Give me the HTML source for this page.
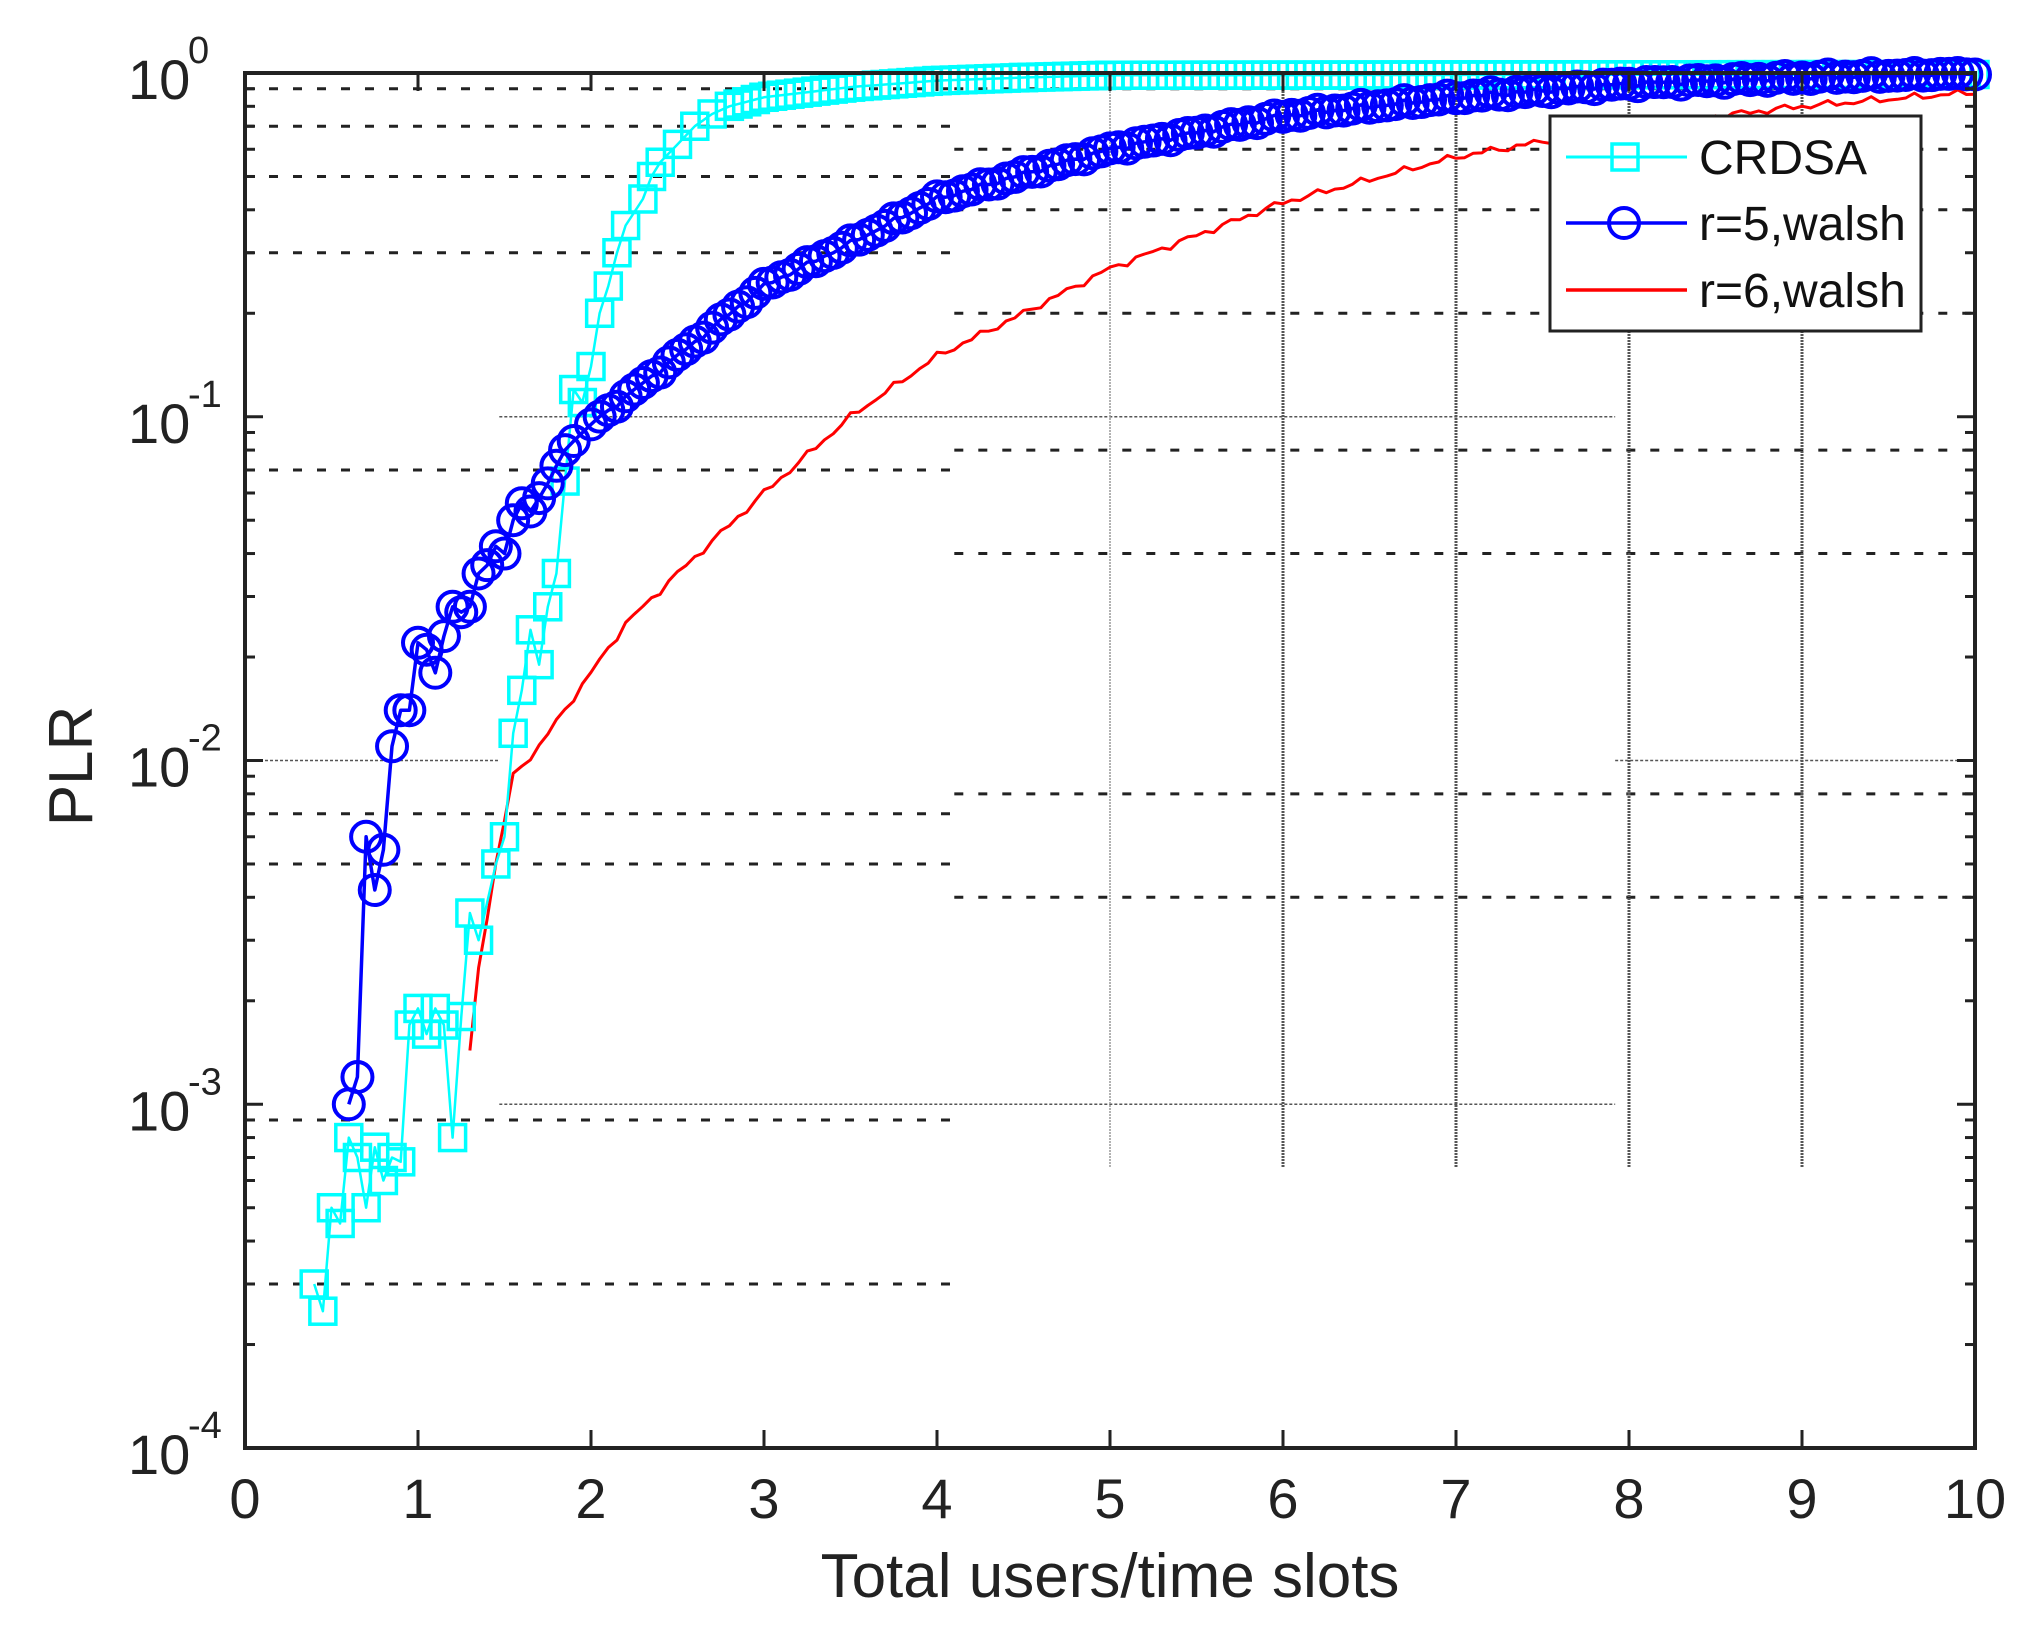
<!DOCTYPE html>
<html><head><meta charset="utf-8"><style>
html,body{margin:0;padding:0;background:#fff;}
svg{display:block;font-family:"Liberation Sans",Arial,sans-serif;}
</style></head><body>
<svg id="s" width="2030" height="1644" viewBox="0 0 2030 1644" xmlns="http://www.w3.org/2000/svg"></svg>
<script>
const L=245,R=1975,T=73,B=1448,D=(B-T)/4;
const X=v=>L+173*v, Y=v=>T+(-Math.log10(v))*D;
let o='';
function hl(y,x1,x2,style){o+=`<line x1="${x1}" y1="${y}" x2="${x2}" y2="${y}" ${style}/>`;}
const dot='stroke="#222" stroke-width="3" stroke-dasharray="9,15"';
const thin='stroke="#555" stroke-width="1.5" stroke-dasharray="3,2"';
const xm=X(4.1);
[0.9,0.7,0.5,0.3,0.07,0.007,0.005,0.0009,0.0003].forEach(v=>hl(Y(v),L,xm,dot));
[0.9,0.6,0.4,0.2,0.08,0.04,0.008,0.004].forEach(v=>hl(Y(v),xm,R,dot));
[0.1,0.001].forEach(v=>hl(Y(v),X(1.47),X(7.92),thin));
hl(Y(0.01),L,X(1.47),thin);hl(Y(0.01),X(7.92),R,thin);
[5,6,7,8,9].forEach(v=>o+=`<line x1="${X(v)}" y1="${T}" x2="${X(v)}" y2="1167" stroke="${v==5?'#999':'#555'}" stroke-width="${v==5?1.5:3}" stroke-dasharray="2,1"/>`);
function mk(pts,step,x0,x1,jit){const r=[];for(let x=x0;x<=x1+1e-9;x+=step){let i=0;while(i<pts.length-2&&pts[i+1][0]<x)i++;const a=pts[i],b=pts[i+1];let t=(x-a[0])/(b[0]-a[0]);t=Math.max(0,Math.min(1,t));let ly=Math.log10(a[1])+t*(Math.log10(b[1])-Math.log10(a[1]));if(jit)ly+=jit*Math.sin(x*37.3)*Math.cos(x*11.7);r.push([x,Math.min(Math.pow(10,ly),1)]);}return r;}
const path=(p,c,w)=>`<polyline fill="none" stroke="${c}" stroke-width="${w}" stroke-linejoin="round" points="${p.map(q=>X(q[0]).toFixed(1)+','+Y(q[1]).toFixed(1)).join(' ')}"/>`;
const red=mk([[1.3,1.4e-3],[1.35,2.5e-3],[1.45,5e-3],[1.55,9e-3],[1.7,0.011],[2,0.018],[2.2,0.025],[2.5,0.035],[3,0.06],[3.5,0.1],[4,0.15],[4.5,0.2],[5,0.27],[6,0.42],[7,0.57],[8,0.7],[9,0.8],[10,0.88]],0.05,1.3,10,0.012);
const cpts=[[0.4,3e-4],[0.45,2.5e-4],[0.5,5e-4],[0.55,4.5e-4],[0.6,8e-4],[0.65,7e-4],[0.7,5e-4],[0.75,7.5e-4],[0.8,6e-4],[0.85,7e-4],[0.9,6.8e-4],[0.95,1.7e-3],[1.0,1.9e-3],[1.05,1.6e-3],[1.1,1.9e-3],[1.15,1.7e-3],[1.2,8e-4],[1.25,1.8e-3],[1.3,3.6e-3],[1.35,3e-3],[1.45,5e-3],[1.5,6e-3],[1.55,0.012],[1.6,0.016],[1.65,0.024],[1.7,0.019],[1.75,0.028],[1.8,0.035],[1.85,0.065],[1.9,0.12],[1.95,0.11],[2.0,0.14],[2.05,0.2],[2.1,0.24],[2.15,0.3],[2.2,0.36],[2.3,0.43],[2.35,0.5],[2.4,0.55],[2.5,0.62],[2.6,0.7],[2.7,0.76],[2.8,0.8],[3,0.85],[3.5,0.91],[4,0.95],[4.5,0.97],[5,0.985],[10,0.99]];
let cyan=cpts.slice();for(let x=2.85;x<=10;x+=0.05){cyan.push(mk(cpts,1,x,x,0)[0]);}
cyan.sort((a,b)=>a[0]-b[0]);
const bpts=[[0.6,1e-3],[0.65,1.2e-3],[0.7,6e-3],[0.75,4.2e-3],[0.8,5.5e-3],[0.85,0.011],[0.9,0.014],[0.95,0.014],[1.0,0.022],[1.05,0.021],[1.1,0.018],[1.15,0.023],[1.2,0.028],[1.25,0.027],[1.3,0.028],[1.35,0.035],[1.4,0.037],[1.45,0.042],[1.5,0.04],[1.55,0.05],[1.6,0.056],[1.65,0.053],[1.7,0.058],[1.75,0.064],[1.8,0.072],[1.85,0.08],[1.9,0.085],[2.0,0.095],[2.5,0.15],[3,0.24],[3.5,0.32],[4,0.43],[5,0.6],[6,0.75],[7,0.85],[8,0.93],[9,0.97],[10,1.0]];
let blue=bpts.slice(0,28);for(let x=2.05;x<=10.001;x+=0.05)blue.push(mk(bpts.slice(27),1,x,x,0.008)[0]);
o+=path(red,'#ff0000',3);
o+=path(cyan,'#00ffff',2.5);
cyan.forEach(p=>o+=`<rect x="${X(p[0])-13}" y="${Y(p[1])-13}" width="26" height="26" fill="none" stroke="#00ffff" stroke-width="3.5"/>`);
o+=path(blue,'#0000ff',3.5);
blue.forEach(p=>o+=`<circle cx="${X(p[0])}" cy="${Y(p[1])}" r="15" fill="none" stroke="#0000ff" stroke-width="4"/>`);
o+=`<rect x="${L}" y="${T}" width="${R-L}" height="${B-T}" fill="none" stroke="#222" stroke-width="4"/>`;
for(let i=0;i<=10;i++){const x=X(i);o+=`<line x1="${x}" y1="${B}" x2="${x}" y2="${B-18}" stroke="#222" stroke-width="3"/><line x1="${x}" y1="${T}" x2="${x}" y2="${T+18}" stroke="#222" stroke-width="3"/>`;
o+=`<text x="${x}" y="1518" font-size="56" text-anchor="middle" fill="#222">${i}</text>`;}
for(let e=0;e>=-4;e--){for(let m=1;m<=9;m++){if(e==-4&&m>1)break;const y=Y(m==1?Math.pow(10,e):m*Math.pow(10,e-1));const len=m==1?18:10;o+=`<line x1="${L}" y1="${y}" x2="${L+len}" y2="${y}" stroke="#222" stroke-width="3"/><line x1="${R}" y1="${y}" x2="${R-len}" y2="${y}" stroke="#222" stroke-width="3"/>`;}
const y=Y(Math.pow(10,e));o+=`<text x="128" y="${y+26}" font-size="56" fill="#222">10</text><text x="188" y="${y-10}" font-size="38" fill="#222">${e==0?'0':'-'+(-e)}</text>`;}
o+=`<text x="1110" y="1597" font-size="62" text-anchor="middle" fill="#222">Total users/time slots</text>`;
o+=`<text transform="translate(92,766) rotate(-90)" font-size="62" text-anchor="middle" fill="#222">PLR</text>`;
o+=`<rect x="1550" y="116" width="371" height="215" fill="#fff" stroke="#222" stroke-width="3"/>`;
o+=`<line x1="1566" y1="157" x2="1687" y2="157" stroke="#00ffff" stroke-width="3"/><rect x="1612" y="144" width="26" height="26" fill="none" stroke="#00ffff" stroke-width="3.5"/>`;
o+=`<line x1="1566" y1="223" x2="1687" y2="223" stroke="#0000ff" stroke-width="3.5"/><circle cx="1624" cy="223" r="15" fill="none" stroke="#0000ff" stroke-width="4"/>`;
o+=`<line x1="1566" y1="290" x2="1687" y2="290" stroke="#ff0000" stroke-width="3.5"/>`;
[['CRDSA',157],['r=5,walsh',223],['r=6,walsh',290]].forEach(t=>o+=`<text x="1699" y="${t[1]+17}" font-size="48" fill="#111">${t[0]}</text>`);
document.getElementById('s').innerHTML=o;
</script>
</body></html>
